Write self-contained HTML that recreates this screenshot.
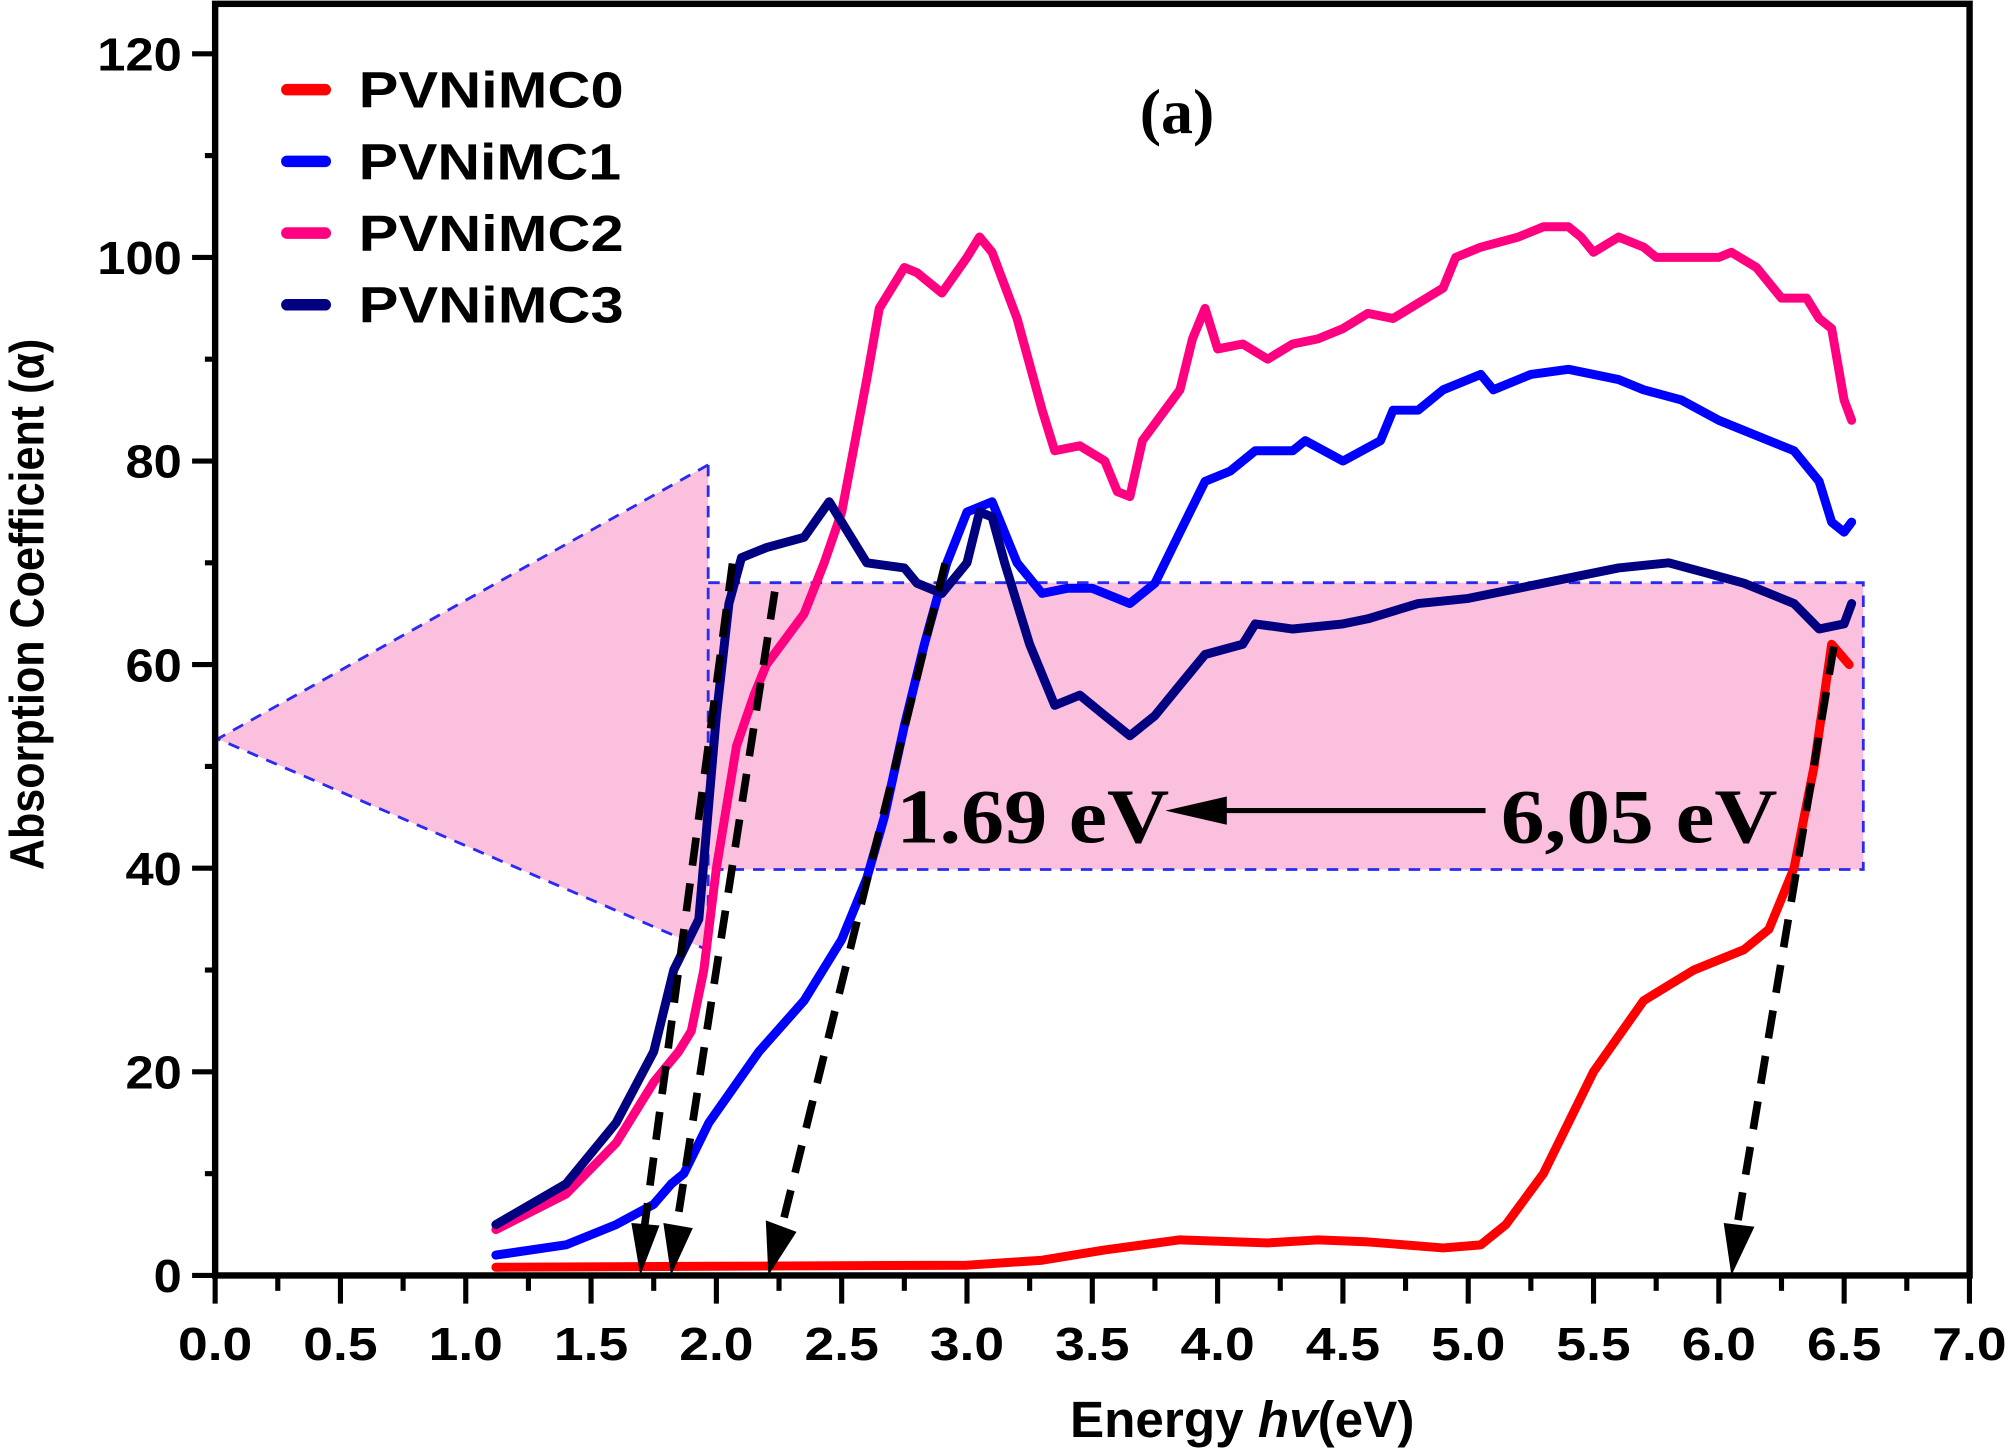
<!DOCTYPE html>
<html><head><meta charset="utf-8">
<style>html,body{margin:0;padding:0;background:#fff;}svg{display:block;}</style>
</head><body>
<svg id="s" width="2008" height="1450" viewBox="0 0 1568 1132.3" preserveAspectRatio="none" xmlns="http://www.w3.org/2000/svg" font-family="Liberation Sans, Arial, sans-serif">
<rect width="1568" height="1133" fill="#fff"/>
<polygon points="553,455 1455,455 1455,679 553,679" fill="#fcc0df"/>
<polygon points="553,363 170,577 553,742" fill="#fcc0df"/>
<g fill="none" stroke="#2a2af0" stroke-width="2.2" stroke-dasharray="9,7">
<polyline points="553,455 1455,455 1455,679 553,679"/>
<polyline points="553,363 170,577 553,742"/>
<line x1="553" y1="363" x2="553" y2="742"/>
</g>
<g id="curves" fill="none" stroke-width="7" stroke-linejoin="round" stroke-linecap="round"></g>
<g stroke="#000" stroke-width="6" stroke-dasharray="22,14" fill="none">
<line x1="572" y1="440" x2="503" y2="960"/>
<line x1="605" y1="462" x2="528" y2="960"/>
<line x1="738" y1="440" x2="610" y2="960"/>
<line x1="1432" y1="505" x2="1356" y2="960"/>
</g>
<g fill="#000">
<polygon points="493,955 515,957 500,996"/>
<polygon points="518,955 541,959 524,996"/>
<polygon points="598,953 622,962 600,996"/>
<polygon points="1346,955 1370,958 1352,996"/>
</g>
<rect x="168" y="3" width="1370" height="993" fill="none" stroke="#000" stroke-width="5"/>
<g id="ticks" stroke="#000" stroke-width="4"></g>
<g id="labels" font-weight="bold" font-size="36" fill="#000"></g>
<g stroke-width="9" stroke-linecap="round">
<line x1="224" y1="70" x2="254" y2="70" stroke="#ff0000"/>
<line x1="224" y1="126" x2="254" y2="126" stroke="#0000ff"/>
<line x1="224" y1="182" x2="254" y2="182" stroke="#ff0080"/>
<line x1="224" y1="238" x2="254" y2="238" stroke="#000080"/>
</g>
<g font-size="40" font-weight="bold" fill="#000">
<text x="280" y="84" textLength="207" lengthAdjust="spacingAndGlyphs">PVNiMC0</text>
<text x="280" y="140" textLength="205" lengthAdjust="spacingAndGlyphs">PVNiMC1</text>
<text x="280" y="196" textLength="207" lengthAdjust="spacingAndGlyphs">PVNiMC2</text>
<text x="280" y="252" textLength="207" lengthAdjust="spacingAndGlyphs">PVNiMC3</text>
</g>
<g font-family="Liberation Serif, serif" font-weight="bold" fill="#000">
<text x="890" y="104" font-size="50">(a)</text>
<text x="700" y="658" font-size="60" textLength="213" lengthAdjust="spacingAndGlyphs">1.69 eV</text>
<text x="1172" y="658" font-size="60" textLength="216" lengthAdjust="spacingAndGlyphs">6,05 eV</text>
</g>
<line x1="1160" y1="633" x2="940" y2="633" stroke="#000" stroke-width="4"/>
<polygon points="910,633 958,622 958,644" fill="#000"/>
<text x="970" y="1122" font-size="40" font-weight="bold" text-anchor="middle">Energy <tspan font-style="italic">hv</tspan>(eV)</text>
<text transform="translate(34,472) rotate(-90)" font-size="38" font-weight="bold" text-anchor="middle" textLength="415" lengthAdjust="spacingAndGlyphs">Absorption Coefficient (α)</text>
<script>
var NS="http://www.w3.org/2000/svg";
function X(e){return 168+195.7*e;} function Y(v){return 996-7.95*v;}
function el(p,t,a,txt){var e=document.createElementNS(NS,t);for(var k in a)e.setAttribute(k,a[k]);if(txt!=null)e.textContent=txt;p.appendChild(e);return e;}
var T=document.getElementById('ticks'),L=document.getElementById('labels'),C=document.getElementById('curves');
for(var i=0;i<=28;i++){var e=i*0.25,x=X(e);el(T,'line',{x1:x,y1:996,x2:x,y2:i%2?1008:1018});
 if(i%2==0)el(L,'text',{x:x,y:1062,'text-anchor':'middle',textLength:58,lengthAdjust:'spacingAndGlyphs'},(e).toFixed(1));}
for(var v=0;v<=120;v+=10){var y=Y(v);el(T,'line',{x1:168,y1:y,x2:v%20?160:150,y2:y});
 if(v%20==0){var s=String(v);el(L,'text',{x:142,y:y+13,'text-anchor':'end',textLength:s.length*22,lengthAdjust:'spacingAndGlyphs'},s);}}
var data={
"#ff0000":[[1.12,0.8],[2,0.9],[3,1],[3.3,1.5],[3.55,2.5],[3.85,3.5],[4.2,3.2],[4.4,3.5],[4.6,3.3],[4.9,2.7],[5.05,3],[5.15,5],[5.3,10],[5.5,20],[5.7,27],[5.9,30],[6.1,32],[6.2,34],[6.3,40],[6.38,50],[6.45,62],[6.52,60]],
"#0000ff":[[1.12,2],[1.4,3],[1.6,5],[1.75,7],[1.82,9],[1.87,10],[1.97,15],[2.17,22],[2.35,27],[2.5,33],[2.6,39],[2.67,45],[2.75,54],[2.83,62],[2.92,70],[3,75],[3.1,76],[3.2,70],[3.3,67],[3.4,67.5],[3.5,67.5],[3.65,66],[3.75,68],[3.85,73],[3.95,78],[4.05,79],[4.15,81],[4.3,81],[4.35,82],[4.5,80],[4.65,82],[4.7,85],[4.8,85],[4.9,87],[5.05,88.5],[5.1,87],[5.25,88.5],[5.4,89],[5.6,88],[5.7,87],[5.85,86],[6,84],[6.2,82],[6.3,81],[6.4,78],[6.45,74],[6.5,73],[6.53,74]],
"#ff0080":[[1.12,4.5],[1.4,8],[1.6,13],[1.75,19],[1.85,22],[1.9,24],[1.95,30],[2,40],[2.08,52],[2.15,57],[2.2,60],[2.35,65],[2.43,70],[2.5,75],[2.6,88],[2.65,95],[2.75,99],[2.8,98.5],[2.9,96.5],[3,100],[3.05,102],[3.1,100.5],[3.2,94],[3.3,85],[3.35,81],[3.45,81.5],[3.55,80],[3.6,77],[3.65,76.5],[3.7,82],[3.85,87],[3.9,92],[3.95,95],[4,91],[4.1,91.5],[4.2,90],[4.3,91.5],[4.4,92],[4.5,93],[4.6,94.5],[4.7,94],[4.8,95.5],[4.9,97],[4.95,100],[5.05,101],[5.2,102],[5.3,103],[5.4,103],[5.45,102],[5.5,100.5],[5.6,102],[5.7,101],[5.75,100],[5.9,100],[6,100],[6.05,100.5],[6.15,99],[6.25,96],[6.35,96],[6.4,94],[6.45,93],[6.5,86],[6.53,84]],
"#000080":[[1.12,5],[1.4,9],[1.6,15],[1.75,22],[1.83,30],[1.93,35],[2,55],[2.05,66],[2.1,70.5],[2.2,71.5],[2.35,72.5],[2.45,76],[2.5,74],[2.6,70],[2.75,69.5],[2.8,68],[2.9,67],[3,70],[3.05,75],[3.1,74.5],[3.15,70],[3.25,62],[3.35,56],[3.45,57],[3.55,55],[3.65,53],[3.75,55],[3.85,58],[3.95,61],[4.1,62],[4.15,64],[4.3,63.5],[4.5,64],[4.6,64.5],[4.8,66],[5,66.5],[5.2,67.5],[5.4,68.5],[5.6,69.5],[5.8,70],[5.95,69],[6.1,68],[6.3,66],[6.4,63.5],[6.5,64],[6.53,66]]};
for(var c in data){var p=data[c].map(function(q){return X(q[0]).toFixed(1)+','+Y(q[1]).toFixed(1);}).join(' ');
 el(C,'polyline',{points:p,stroke:c});}
</script>
</svg>
</body></html>
